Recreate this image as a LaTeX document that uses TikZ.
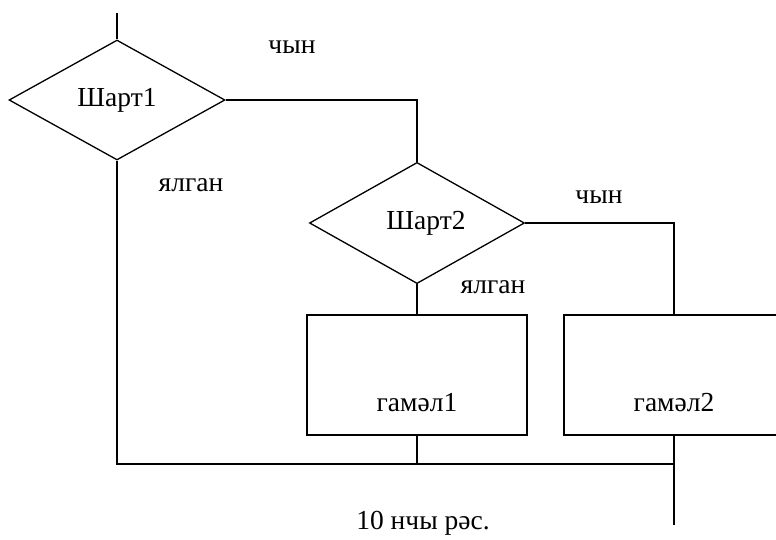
\documentclass[tikz,border=0pt]{standalone}
\usepackage{fontspec}
\setmainfont{Liberation Serif}
\newfontfamily\diagfont{Liberation Serif}
\usetikzlibrary{shapes.geometric}
\begin{document}
\begin{tikzpicture}[x=1pt,y=-1pt,
  line width=1.3pt,
  every node/.style={font=\diagfont\fontsize{27.5}{32}\selectfont},
  cond/.style={diamond,draw,minimum width=216pt,minimum height=120pt,inner sep=0pt,line width=1.3pt},
  actbox/.style={rectangle,draw,minimum width=220pt,minimum height=120pt,inner sep=0pt,line width=1.3pt},
  lbl/.style={inner sep=0pt}]
\useasboundingbox (0,0) rectangle (776,539);
\clip (0,0) rectangle (776,539);
\coordinate (start) at (117,13);
\node[cond] (d1) at (117,100) {Шарт1};
\node[cond,minimum width=215pt] (d2) at (417,223) {\hspace{18pt}Шарт2};
\node[actbox,label={[lbl,yshift=-28pt]center:гамәл1}] (b1) at (417,375) {};
\node[actbox,label={[lbl,yshift=-28pt]center:гамәл2}] (b2) at (674,375) {};
\coordinate (join) at (674,464);
\coordinate (stop) at (674,525);
\node[lbl] (t1) at (292,47) {чын};
\node[lbl] (f1) at (191,185) {ялган};
\node[lbl] (t2) at (599,197) {чын};
\node[lbl] (f2) at (493,287) {ялган};
\node[lbl] (cap) at (423,523) {10 нчы рәс.};
\draw (start) -- (d1.north);
\draw (d1.east) -| (d2.north);
\draw (d1.south) |- (join);
\draw (d2.east) -| (b2.north);
\draw (d2.south) -- (b1.north);
\draw (b1.south) -- (b1.south |- join);
\draw (b2.south) -- (stop);
\end{tikzpicture}
\end{document}
